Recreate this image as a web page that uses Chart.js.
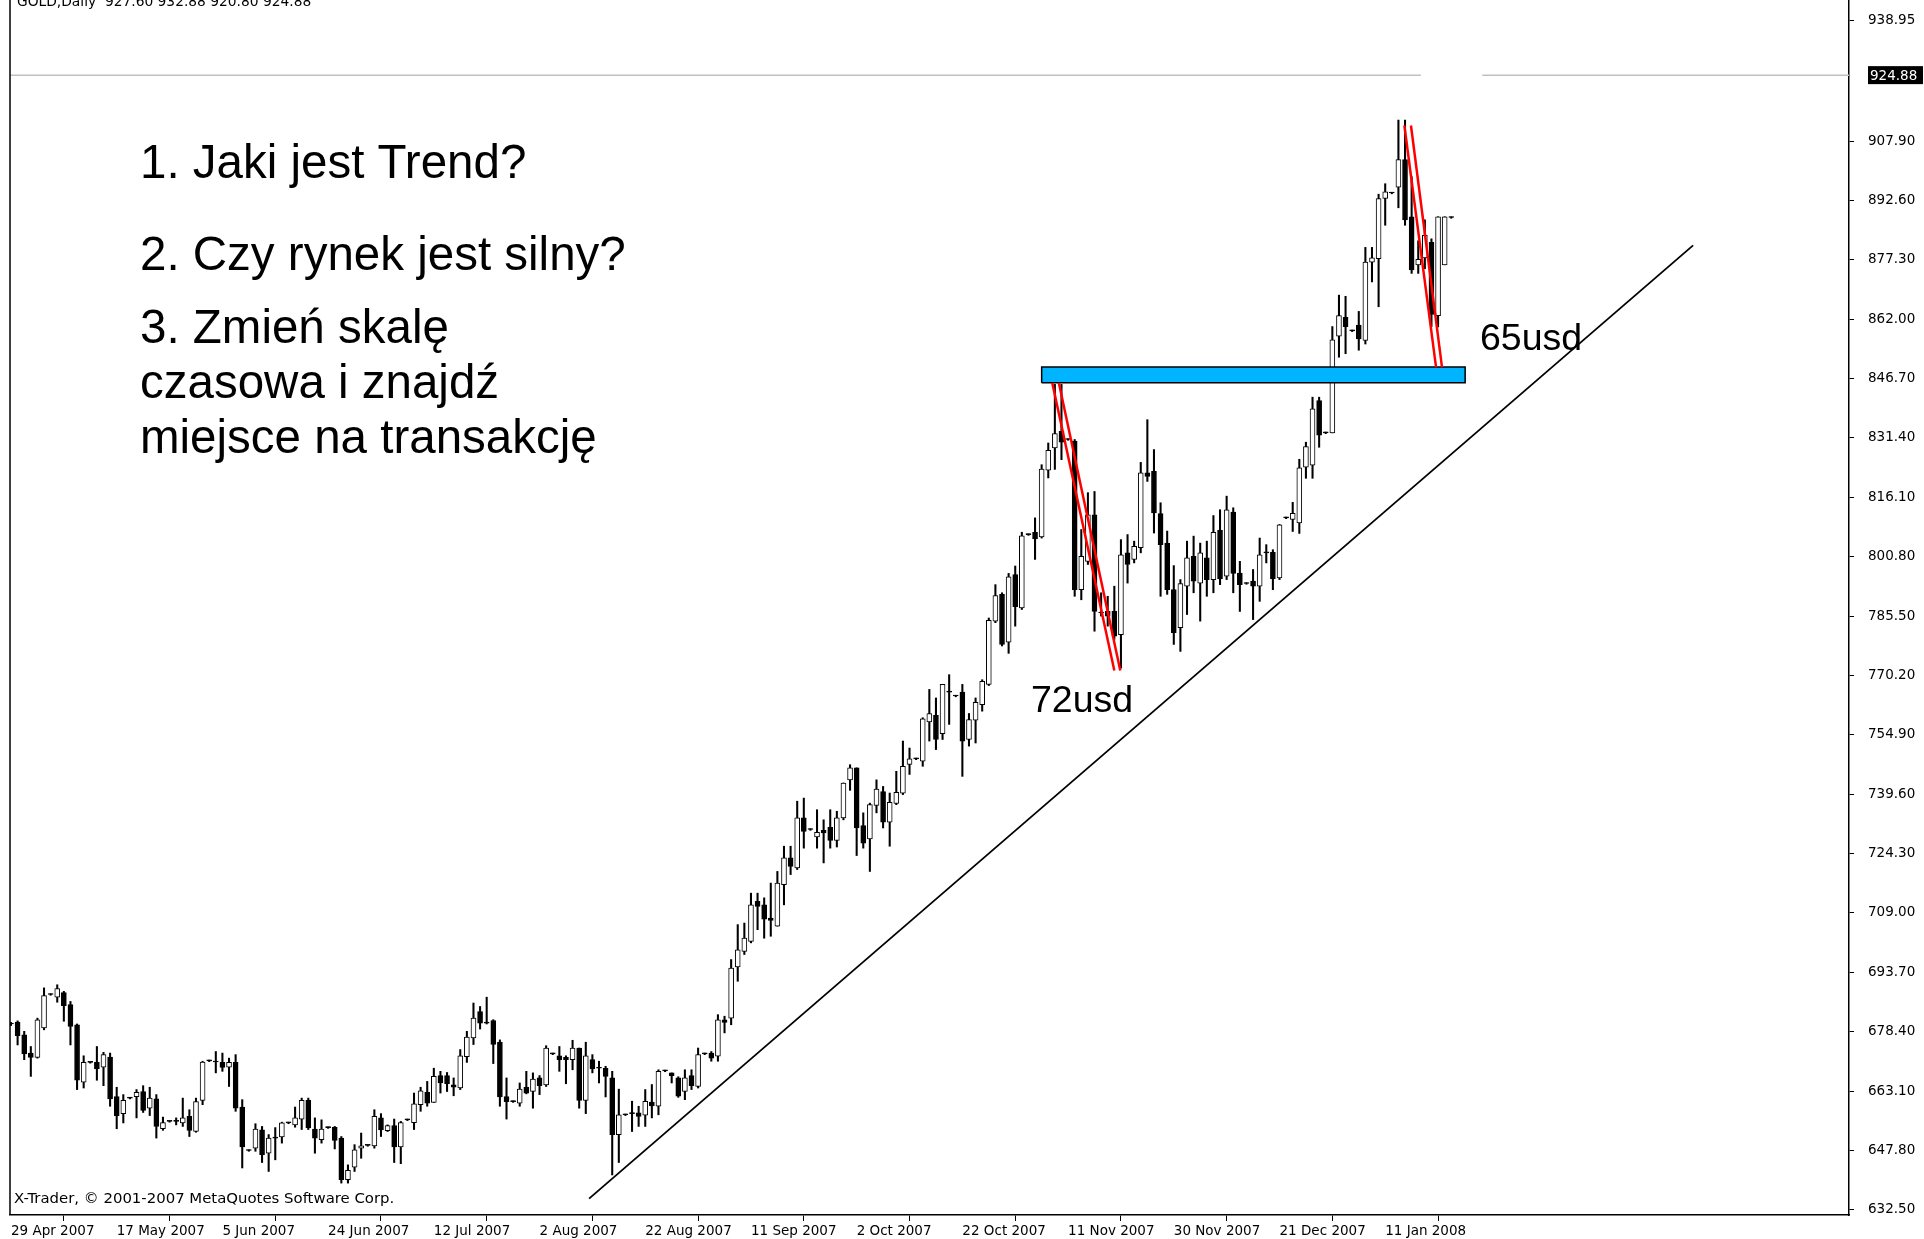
<!DOCTYPE html>
<html>
<head>
<meta charset="utf-8">
<script src="https://cdn.jsdelivr.net/npm/chart.js@4.4.0/dist/chart.umd.min.js"></script>
<style>
html,body{margin:0;padding:0;background:#ffffff;overflow:hidden;}
#wrap{position:absolute;left:0;top:0;width:1924px;height:1239px;}
</style>
</head>
<body>
<div id="wrap"><canvas id="c" width="1924" height="1239"></canvas></div>
<script>
// ---- data ----
const dateLabels = ['29 Apr 2007','17 May 2007','5 Jun 2007','24 Jun 2007','12 Jul 2007','2 Aug 2007','22 Aug 2007','11 Sep 2007','2 Oct 2007','22 Oct 2007','11 Nov 2007','30 Nov 2007','21 Dec 2007','11 Jan 2008'];
const dateTickIdx = [0,16,32,48,64,80,96,112,128,144,160,176,192,208];
const priceTicks = [632.50,647.80,663.10,678.40,693.70,709.00,724.30,739.60,754.90,770.20,785.50,800.80,816.10,831.40,846.70,862.00,877.30,892.60,907.90,938.95];

const opens = [680.4,680.9,677.6,672.9,671.8,679.4,688.0,687.3,688.5,685.4,680.2,665.4,670.5,670.5,669.3,671.9,661.7,657.3,661.3,661.7,663.0,658.7,661.1,653.4,655.3,655.3,654.9,656.6,652.7,660.7,670.9,670.6,670.5,669.3,670.5,659.0,647.8,648.4,653.1,647.1,651.0,651.3,654.9,654.4,655.9,660.7,653.3,650.6,653.7,653.8,651.0,640.3,643.5,648.4,649.1,649.0,656.2,652.9,654.2,648.7,655.7,655.0,659.6,662.8,660.2,667.1,667.1,664.7,663.9,672.0,676.8,683.6,680.6,681.3,675.7,661.7,660.4,660.0,664.1,663.0,666.5,664.7,672.7,672.2,671.8,671.2,674.2,660.7,671.2,669.0,669.0,666.5,651.9,657.0,657.3,657.5,656.9,660.3,659.2,668.3,667.8,666.5,663.0,667.1,664.3,672.7,672.9,672.1,681.5,681.9,695.1,699.1,701.7,712.0,711.1,707.7,705.6,716.3,723.2,720.6,733.5,730.5,728.6,730.3,731.1,727.7,733.5,743.3,746.4,731.5,728.1,736.7,740.3,732.4,737.2,739.9,747.3,748.7,748.1,758.2,759.9,755.2,765.9,764.9,765.9,753.7,758.7,762.7,767.9,784.2,791.1,778.8,796.2,787.6,806.5,807.1,805.9,823.1,828.8,833.1,831.0,830.6,792.3,799.6,811.6,786.3,786.7,786.7,780.7,801.8,800.1,803.1,822.4,822.8,811.9,804.3,792.3,782.5,793.2,800.9,794.0,800.5,794.9,807.6,795.8,812.3,796.6,793.9,794.5,793.2,801.8,801.9,795.3,810.8,810.4,809.5,823.9,824.4,841.0,832.7,832.7,857.6,862.5,859.0,860.5,856.5,876.7,877.6,893.1,894.5,896.0,903.1,888.4,876.0,877.8,881.8,862.9,876.0,888.2];
const highs = [680.8,681.2,678.5,674.6,681.9,689.7,688.2,690.5,688.8,686.2,680.4,672.2,670.7,674.6,673.1,672.9,664.1,662.2,661.5,663.5,664.5,664.1,662.2,656.4,655.5,656.2,661.3,658.3,661.3,670.8,671.1,673.3,672.9,671.6,672.5,660.9,648.0,654.7,654.0,651.9,653.7,655.1,655.1,659.0,661.3,661.3,656.2,655.7,653.9,654.0,651.4,644.1,649.3,652.3,649.3,658.3,657.3,654.4,655.9,655.3,655.9,662.6,664.1,665.6,669.0,668.2,667.9,666.5,673.8,678.5,685.8,684.9,687.3,681.5,676.3,666.5,660.6,665.2,668.2,667.8,667.1,674.8,672.9,674.6,672.2,676.2,674.2,675.7,672.5,670.8,669.5,668.2,663.6,657.2,660.5,659.2,663.5,664.8,668.6,668.5,667.8,666.8,668.6,668.6,674.2,672.9,673.3,682.8,682.4,697.0,706.0,706.4,714.1,714.1,712.9,716.7,719.7,726.2,726.2,737.8,738.6,730.7,735.6,733.0,735.6,735.2,742.5,747.2,746.4,734.8,737.3,743.3,741.6,739.9,745.5,753.3,751.5,748.9,759.3,766.6,764.4,767.9,770.4,765.1,767.9,760.4,764.4,769.1,785.0,793.6,791.5,796.5,798.4,807.1,806.7,810.8,824.5,830.1,845.2,845.2,831.2,831.0,807.8,817.3,817.6,791.5,790.6,793.2,805.2,806.5,804.8,825.1,836.1,828.4,814.7,807.4,798.5,794.9,804.8,806.1,804.3,804.8,811.4,812.9,816.4,813.4,799.6,794.1,797.5,805.6,803.9,802.6,809.1,811.0,814.8,825.9,830.3,841.9,841.9,832.9,860.1,868.2,867.9,859.2,864.0,880.5,880.5,894.2,896.9,894.7,913.3,913.3,898.7,882.2,887.6,882.7,888.4,888.4,888.4];
const lows = [680.0,675.0,671.2,666.9,671.6,678.9,687.8,686.0,681.1,675.0,663.5,663.9,670.3,665.9,664.5,659.2,653.4,654.9,661.1,656.2,657.6,656.8,651.0,653.0,655.1,654.4,654.0,651.4,652.5,659.6,670.7,667.8,668.2,664.3,657.9,643.3,647.6,647.6,644.7,642.4,645.4,649.7,654.7,653.8,653.2,653.2,647.1,649.7,653.5,648.2,639.4,639.4,642.4,645.8,648.9,648.4,651.4,652.7,644.7,644.4,655.5,653.2,657.9,659.2,660.2,662.6,663.0,661.9,663.5,670.5,675.1,679.1,680.4,670.2,659.2,655.9,660.2,659.2,662.4,658.7,662.2,664.3,672.5,668.2,665.0,668.6,658.7,657.3,667.8,665.2,661.6,641.5,644.7,656.8,652.7,654.0,654.0,656.2,657.0,668.1,665.2,661.5,660.9,663.5,663.9,672.5,670.8,670.8,678.1,680.2,691.4,698.3,701.3,704.7,702.5,703.0,705.6,711.1,718.9,720.2,725.7,730.3,725.7,721.9,725.7,726.0,733.0,740.6,723.8,725.7,719.7,734.8,730.9,726.2,736.9,739.5,744.7,748.5,746.8,753.3,751.1,753.7,757.6,764.7,744.2,752.0,752.8,761.0,767.6,783.8,777.8,775.9,782.9,787.2,806.3,800.1,805.6,821.1,823.3,825.8,830.8,790.6,789.7,798.8,781.6,785.5,782.9,779.5,772.1,794.0,799.2,801.8,820.2,806.9,790.6,791.1,778.2,776.4,785.9,791.5,784.2,790.6,791.5,793.6,794.9,791.5,786.7,793.7,784.6,789.3,799.2,792.3,794.9,810.6,807.3,806.8,821.0,821.0,829.0,832.5,832.7,852.2,853.1,858.8,854.0,855.6,871.6,865.2,886.2,894.3,890.7,886.2,873.8,873.8,875.0,860.1,860.0,876.0,888.0];
const closes = [680.4,677.4,672.7,671.8,681.5,687.7,688.0,689.5,685.1,679.8,665.9,670.5,670.5,668.8,672.5,661.1,656.8,660.7,661.3,662.8,658.1,661.3,654.0,655.0,655.3,655.3,656.2,653.0,660.4,670.6,670.9,670.6,669.2,670.5,658.7,648.7,647.8,653.3,646.7,651.0,651.0,654.9,654.9,656.2,660.7,653.6,651.0,653.3,653.7,650.4,640.3,642.7,648.0,649.0,649.1,656.6,653.1,654.2,648.7,655.0,655.7,659.8,663.2,660.0,666.9,665.2,665.0,664.1,672.2,677.0,681.9,680.6,680.6,675.1,661.6,660.4,660.4,663.6,662.6,666.2,664.5,674.2,672.7,671.2,671.2,674.2,660.7,672.2,668.8,669.0,666.9,651.9,657.0,657.0,657.3,656.6,660.5,659.3,668.2,668.3,667.1,661.8,666.5,664.5,672.5,672.7,671.6,681.5,680.8,694.8,699.5,702.5,711.1,710.7,707.4,707.1,716.7,723.2,721.0,733.5,730.0,730.5,729.8,729.6,727.7,733.5,742.5,746.4,730.9,727.0,736.9,740.9,732.4,737.5,740.1,746.8,748.7,748.7,759.0,760.4,753.7,767.9,765.9,764.9,753.3,758.8,763.3,768.7,784.4,790.8,778.2,795.6,787.9,806.2,806.5,805.4,823.4,828.2,832.5,830.3,831.0,792.3,800.9,811.6,786.7,786.3,785.5,780.3,801.3,798.8,803.5,822.4,821.5,812.1,803.9,792.3,781.2,793.9,800.5,794.5,801.8,794.9,807.1,795.1,812.9,796.5,793.6,793.9,793.2,801.3,801.8,795.1,809.0,810.8,812.0,823.7,829.2,838.9,832.1,832.7,856.7,862.9,860.1,859.0,856.9,876.7,877.8,893.1,894.8,894.5,903.1,887.6,874.7,877.4,883.6,863.2,888.4,888.4,888.2];

// annotation geometry in data space (bar index, price)
const trendLine = [{x:87.5,y:635.4},{x:254.6,y:881.0}];
const red72a = [{x:157.6,y:845.6},{x:167.0,y:771.5}];
const red72b = [{x:158.6,y:845.6},{x:167.9,y:771.5}];
const red65a = [{x:210.9,y:911.9},{x:215.7,y:849.6}];
const red65b = [{x:211.9,y:911.9},{x:216.6,y:849.6}];
const zoneX = [156.0, 220.1];
const zoneY = [845.6, 849.7];
const lastPrice = 924.88;
const lastPriceGap = [213.4, 222.7];

// ---- build datasets ----
const X_MIN = -0.151, X_MAX = 278.2, Y_MIN = 631.18, Y_MAX = 944.24;
const idx = opens.map((_, i) => i);
const bodyData = idx.map(i => ({x: i, y: [opens[i], closes[i]]}));
const wickData = idx.map(i => ({x: i, y: [lows[i], highs[i]]}));
const bodyFill = idx.map(i => closes[i] > opens[i] ? '#ffffff' : '#000000');
const zonePoly = [
  {x: zoneX[0], y: zoneY[0]}, {x: zoneX[1], y: zoneY[0]},
  {x: zoneX[1], y: zoneY[1]}, {x: zoneX[0], y: zoneY[1]}, {x: zoneX[0], y: zoneY[0]}
];
const greyLine = [
  {x: X_MIN, y: lastPrice}, {x: lastPriceGap[0], y: lastPrice},
  {x: (lastPriceGap[0] + lastPriceGap[1]) / 2, y: null},
  {x: lastPriceGap[1], y: lastPrice}, {x: X_MAX, y: lastPrice}
];

const MT_FONT = 'DejaVu Sans';

function lineDs(data, color, width, order) {
  return {type: 'line', data, borderColor: color, borderWidth: width, pointRadius: 0,
    fill: false, tension: 0, spanGaps: false, order, xAxisID: 'x', yAxisID: 'y'};
}

const decor = {
  id: 'decor',
  afterDatasetsDraw(chart) {
    const ctx = chart.ctx, a = chart.chartArea, ys = chart.scales.y;
    ctx.save();
    // left frame
    ctx.strokeStyle = '#000'; ctx.lineWidth = 1.5;
    ctx.beginPath(); ctx.moveTo(a.left, 0); ctx.lineTo(a.left, a.bottom); ctx.stroke();
    // header
    ctx.fillStyle = '#000'; ctx.textBaseline = 'alphabetic'; ctx.textAlign = 'left';
    ctx.font = '13.8px "' + MT_FONT + '"';
    ctx.fillText('GOLD,Daily  927.60 932.88 920.80 924.88', 17, 6);
    ctx.font = '14.9px "' + MT_FONT + '"';
    ctx.fillText('X-Trader, \u00a9 2001-2007 MetaQuotes Software Corp.', 14, 1203);
    // last price box
    ctx.font = '13.5px "' + MT_FONT + '"';
    const py = ys.getPixelForValue(lastPrice);
    ctx.fillStyle = '#000'; ctx.fillRect(a.right + 19, py - 9, 55, 18);
    ctx.fillStyle = '#fff'; ctx.textBaseline = 'middle';
    ctx.fillText('924.88', a.right + 21, py + 1);
    // questions
    ctx.fillStyle = '#000'; ctx.textBaseline = 'alphabetic';
    ctx.font = '47.5px "Liberation Sans", Arial, sans-serif';
    ctx.fillText('1. Jaki jest Trend?', 140, 178);
    ctx.fillText('2. Czy rynek jest silny?', 140, 270);
    ctx.fillText('3. Zmie\u0144 skal\u0119', 140, 343);
    ctx.fillText('czasowa i znajd\u017a', 140, 398);
    ctx.fillText('miejsce na transakcj\u0119', 140, 453);
    ctx.font = '37.5px "Liberation Sans", Arial, sans-serif';
    ctx.fillText('72usd', 1031, 712);
    ctx.fillText('65usd', 1480, 350);
    ctx.restore();
  }
};

new Chart(document.getElementById('c'), {
  type: 'bar',
  data: {
    datasets: [
      lineDs(red72a, '#ff0000', 2.5, 0),
      lineDs(red72b, '#ff0000', 2.5, 0),
      lineDs(red65a, '#ff0000', 2.5, 0),
      lineDs(red65b, '#ff0000', 2.5, 0),
      {type: 'line', data: zonePoly, borderColor: '#000', borderWidth: 1.5, backgroundColor: '#00b4ff',
        fill: 'shape', pointRadius: 0, tension: 0, order: 1},
      lineDs(greyLine, '#c0c0c0', 1.5, 2),
      lineDs(trendLine, '#000000', 1.8, 3),
      {type: 'bar', data: bodyData, backgroundColor: bodyFill, borderColor: '#000', borderWidth: 1,
        borderSkipped: false, barThickness: 5, minBarLength: 1, grouped: false, order: 4},
      {type: 'bar', data: wickData, backgroundColor: '#000', borderWidth: 0,
        barThickness: 1.4, grouped: false, order: 5}
    ]
  },
  options: {
    responsive: false, animation: false, devicePixelRatio: 1,
    layout: {padding: {left: 10, right: 0, top: 0, bottom: 0}},
    plugins: {legend: {display: false}, tooltip: {enabled: false}, title: {display: false}},
    scales: {
      x: {
        type: 'linear', min: X_MIN, max: X_MAX, offset: false,
        afterBuildTicks: s => { s.ticks = dateTickIdx.map(v => ({value: v})); },
        afterFit: s => { s.height = 24; s.paddingLeft = 0; s.paddingRight = 0; s.paddingTop = 0; s.paddingBottom = 0; },
        grid: {display: true, drawOnChartArea: false, drawTicks: true, tickLength: 6, color: '#000', lineWidth: 1},
        border: {display: true, color: '#000', width: 1.5},
        ticks: {autoSkip: false, maxRotation: 0, minRotation: 0, align: 'start', padding: 2, color: '#000',
          font: {family: MT_FONT, size: 13.5}, callback: (v, i) => dateLabels[i]}
      },
      y: {
        type: 'linear', position: 'right', min: Y_MIN, max: Y_MAX, beginAtZero: false,
        afterBuildTicks: s => { s.ticks = priceTicks.map(v => ({value: v})); },
        afterFit: s => { s.width = 75; s.paddingLeft = 0; s.paddingRight = 0; s.paddingTop = 0; s.paddingBottom = 0; },
        grid: {display: true, drawOnChartArea: false, drawTicks: true, tickLength: 5, color: '#000', lineWidth: 1},
        border: {display: true, color: '#000', width: 1.5},
        ticks: {padding: 14, color: '#000', font: {family: MT_FONT, size: 13.5},
          callback: v => Number(v).toFixed(2)}
      }
    }
  },
  plugins: [decor]
});
</script>
</body>
</html>
